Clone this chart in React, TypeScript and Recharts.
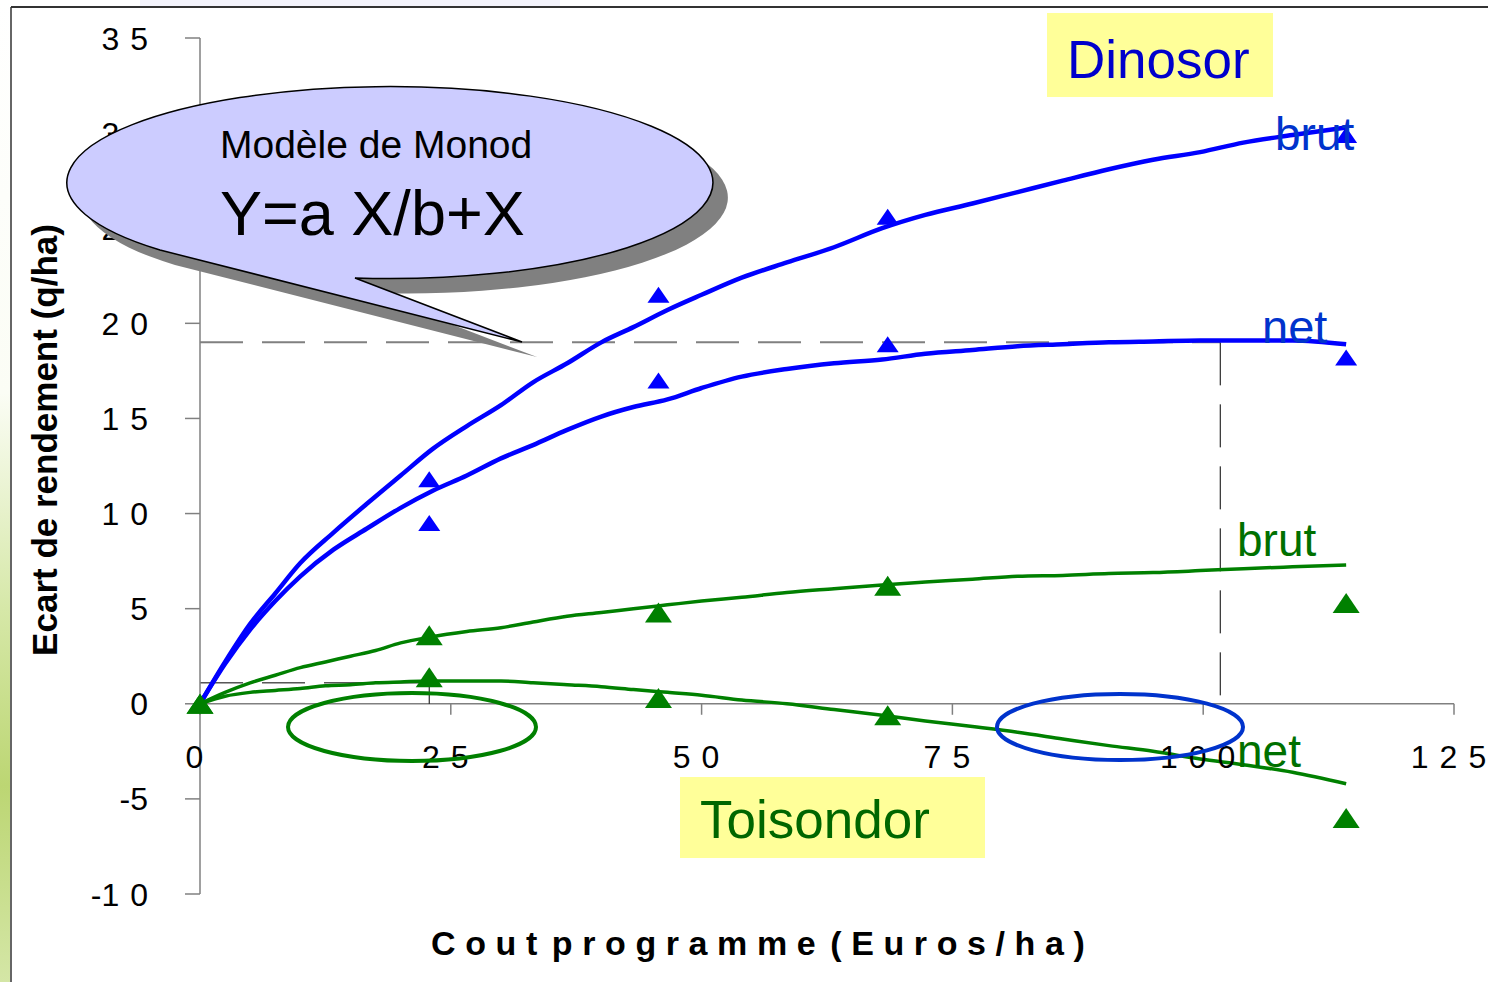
import React from 'react';
import { ComposedChart, Line, Scatter, XAxis, YAxis, ReferenceLine } from 'recharts';

// ---- Data ----
const doseX = [0, 22.85, 45.7, 68.55, 114.25];

const dinoBrutObs = [0, 11.8, 21.5, 25.6, 29.9];
const dinoNetObs = [0, 9.5, 17.0, 18.9, 18.2];
const toisBrutObs = [0, 3.6, 4.8, 6.2, 5.3];
const toisNetObs = [0, 1.4, 0.3, -0.6, -6.0];

const curveX1 = [0, 2.5, 5, 7.5, 10, 13.3, 16.6, 20, 23.2, 26.6, 30, 33.2, 36.6, 40, 43.2, 46.6, 50, 54, 58.5, 63.2, 68, 72.3, 77, 81.5, 86, 90.6, 95, 99.7, 104, 108.9, 114.25];
const dinoBrutCurve = [0, 2.2, 4.2, 5.8, 7.4, 9.0, 10.5, 12.0, 13.4, 14.6, 15.7, 16.9, 17.9, 19.0, 19.8, 20.7, 21.5, 22.4, 23.2, 24.0, 25.0, 25.7, 26.3, 26.9, 27.5, 28.1, 28.6, 29.0, 29.5, 29.9, 30.3];
const dinoNetCurve = [0, 2.1, 3.9, 5.4, 6.7, 8.1, 9.2, 10.3, 11.2, 12.0, 12.9, 13.6, 14.4, 15.1, 15.6, 16.0, 16.6, 17.2, 17.6, 17.9, 18.1, 18.4, 18.6, 18.8, 18.9, 19.0, 19.05, 19.1, 19.1, 19.1, 18.9];

const curveX2 = [0, 2.5, 5, 7.5, 10, 12.5, 15, 17.5, 20, 22.85, 26.6, 30, 33.2, 36.6, 40, 43.2, 46.6, 50, 54, 58.5, 63.2, 68, 72.3, 77, 81.5, 86, 90.6, 95, 99.7, 104, 108.9, 114.25];
const toisBrutCurve = [0, 0.6, 1.1, 1.5, 1.9, 2.2, 2.5, 2.8, 3.2, 3.5, 3.8, 4.0, 4.3, 4.6, 4.8, 5.0, 5.2, 5.4, 5.6, 5.85, 6.05, 6.25, 6.4, 6.55, 6.7, 6.75, 6.85, 6.9, 7.0, 7.1, 7.2, 7.3];
const toisNetCurve = [0, 0.4, 0.6, 0.7, 0.8, 0.95, 1.0, 1.1, 1.15, 1.2, 1.2, 1.2, 1.1, 1.0, 0.9, 0.75, 0.6, 0.45, 0.2, 0.0, -0.3, -0.6, -0.9, -1.2, -1.5, -1.85, -2.2, -2.5, -2.9, -3.2, -3.6, -4.2];

const xTickValues = [0, 25, 50, 75, 100, 125];
const yTickValues = [-10, -5, 0, 5, 10, 15, 20, 25, 30, 35];
const xTitleWords = ['Cout', 'programme', '(Euros/ha)'];

const optimumY = 19;
const optimumX = 101.7;
const toisMaxY = 1.1;
const toisMaxX = 22.85;

const zip = (xs: number[], ys: number[]) => xs.map((x, i) => ({ x, y: ys[i] }));

const dinoBrutLine = zip(curveX1, dinoBrutCurve);
const dinoNetLine = zip(curveX1, dinoNetCurve);
const toisBrutLine = zip(curveX2, toisBrutCurve);
const toisNetLine = zip(curveX2, toisNetCurve);
const dinoBrutPts = zip(doseX, dinoBrutObs);
const dinoNetPts = zip(doseX, dinoNetObs);
const toisBrutPts = zip(doseX, toisBrutObs);
const toisNetPts = zip(doseX, toisNetObs);
const xTickPts = xTickValues.map((x) => ({ x, y: 0 }));

const FONT = '"Liberation Sans", Arial, sans-serif';
const BLUE = '#0000ff';
const GREEN = '#008000';

const makeTriangle = (w: number, h: number, color: string) => (props: any) => {
  const { cx, cy } = props;
  if (cx == null || cy == null) return null;
  return (
    <polygon
      points={`${cx},${cy - h / 2} ${cx + w / 2},${cy + h / 2} ${cx - w / 2},${cy + h / 2}`}
      fill={color}
    />
  );
};

const BlueTri = makeTriangle(22, 16, BLUE);
const GreenTri = makeTriangle(27, 20, GREEN);

const tickLabel = (v: number) => {
  const neg = v < 0;
  const digits = String(Math.abs(v));
  return [
    neg ? <tspan key="m" letterSpacing={0}>-</tspan> : null,
    <tspan key="d" letterSpacing={11}>{digits}</tspan>,
  ];
};

const XTickShape = (props: any) => {
  const { cx, cy, payload } = props;
  return (
    <g>
      <line x1={cx} y1={cy} x2={cx} y2={cy + 11} stroke="#808080" strokeWidth={1.5} />
      <text x={cx} y={cy + 64} textAnchor="middle" fontSize={32} fontFamily={FONT} fill="#000">
        {tickLabel(payload.x)}
      </text>
    </g>
  );
};

const YTick = (props: any) => {
  const { x, y, payload } = props;
  return (
    <text x={x} y={y} dy="0.36em" textAnchor="end" fontSize={32} fontFamily={FONT} fill="#000">
      {tickLabel(payload.value)}
    </text>
  );
};

const calloutPath = 'M 355 278 L 522 342 L 160 250 A 323 96 0 1 1 355 278 Z';

export default function App() {
  return (
    <div style={{ position: 'absolute', left: 0, top: 0, width: 1488, height: 982, background: '#fff', fontFamily: FONT }}>
      <ComposedChart width={1488} height={982} margin={{ top: 38, right: 34, bottom: 88, left: 0 }}>
        <XAxis type="number" dataKey="x" domain={[0, 125]} hide />
        <YAxis
          type="number"
          dataKey="y"
          domain={[-10, 35]}
          ticks={yTickValues}
          interval={0}
          width={200}
          tickSize={15}
          tickMargin={26}
          axisLine={{ stroke: '#808080', strokeWidth: 1.5 }}
          tickLine={{ stroke: '#808080', strokeWidth: 1.5 }}
          tick={<YTick />}
        />
        <ReferenceLine y={0} stroke="#808080" strokeWidth={1.5} />
        <ReferenceLine
          segment={[{ x: 0, y: optimumY }, { x: optimumX, y: optimumY }]}
          stroke="#808080"
          strokeWidth={2}
          strokeDasharray="43 19"
        />
        <ReferenceLine
          segment={[{ x: optimumX, y: optimumY }, { x: optimumX, y: 0 }]}
          stroke="#000"
          strokeWidth={1}
          strokeDasharray="43 19"
        />
        <ReferenceLine
          segment={[{ x: 0, y: toisMaxY }, { x: toisMaxX, y: toisMaxY }]}
          stroke="#000"
          strokeWidth={1}
          strokeDasharray="43 19"
        />
        <ReferenceLine
          segment={[{ x: toisMaxX, y: toisMaxY }, { x: toisMaxX, y: 0 }]}
          stroke="#000"
          strokeWidth={1}
        />
        <Scatter data={xTickPts} dataKey="y" shape={<XTickShape />} isAnimationActive={false} />
        <Line data={dinoBrutLine} dataKey="y" type="monotone" stroke={BLUE} strokeWidth={4.5} dot={false} isAnimationActive={false} />
        <Line data={dinoNetLine} dataKey="y" type="monotone" stroke={BLUE} strokeWidth={4.5} dot={false} isAnimationActive={false} />
        <Line data={toisBrutLine} dataKey="y" type="monotone" stroke={GREEN} strokeWidth={3.5} dot={false} isAnimationActive={false} />
        <Line data={toisNetLine} dataKey="y" type="monotone" stroke={GREEN} strokeWidth={3.5} dot={false} isAnimationActive={false} />
        <Scatter data={dinoBrutPts} dataKey="y" shape={<BlueTri />} isAnimationActive={false} />
        <Scatter data={dinoNetPts} dataKey="y" shape={<BlueTri />} isAnimationActive={false} />
        <Scatter data={toisBrutPts} dataKey="y" shape={<GreenTri />} isAnimationActive={false} />
        <Scatter data={toisNetPts} dataKey="y" shape={<GreenTri />} isAnimationActive={false} />
      </ComposedChart>

      <svg width={1488} height={982} style={{ position: 'absolute', left: 0, top: 0, pointerEvents: 'none' }}>
        <defs>
          <linearGradient id="strip" x1="0" y1="0" x2="0" y2="1">
            <stop offset="0" stopColor="#ffffff" />
            <stop offset="0.4" stopColor="#fbfdf5" />
            <stop offset="0.62" stopColor="#d6e8a8" />
            <stop offset="0.8" stopColor="#bcd673" />
            <stop offset="1" stopColor="#d4e6a6" />
          </linearGradient>
        </defs>
        <rect x={140} y={0} width={420} height={6} fill="#f3f3fb" />
        <rect x={0} y={0} width={10} height={982} fill="url(#strip)" />
        <line x1={11} y1={7} x2={1488} y2={7} stroke="#333" strokeWidth={2} />
        <line x1={11} y1={7} x2={11} y2={982} stroke="#333" strokeWidth={1.5} />

        <text x={57} y={440} transform="rotate(-90 57 440)" textAnchor="middle" fontSize={35} fontWeight="bold" fontFamily={FONT} fill="#000">
          Ecart de rendement (q/ha)
        </text>
        <text x={431} y={955} fontSize={34} fontWeight="bold" letterSpacing={9.6} fontFamily={FONT} fill="#000">
          {xTitleWords.map((w, i) => (
            <tspan key={w} dx={i === 0 ? 0 : 5}>{w}</tspan>
          ))}
        </text>

        <path d={calloutPath} transform="translate(15 15)" fill="#808080" />
        <path d={calloutPath} fill="#ccccff" stroke="#000" strokeWidth={1.5} strokeLinejoin="miter" />
        <text x={220} y={158} fontSize={39} fontFamily={FONT} fill="#000">Modèle de Monod</text>
        <text x={220} y={235} fontSize={63} fontFamily={FONT} fill="#000">Y=a X/b+X</text>

        <rect x={1047} y={13} width={226} height={84} fill="#ffff99" />
        <text x={1067} y={78} fontSize={53} fontFamily={FONT} fill="#0000cc">Dinosor</text>
        <rect x={680} y={777} width={305} height={81} fill="#ffff99" />
        <text x={700} y={838} fontSize={53} fontFamily={FONT} fill="#006600">Toisondor</text>

        <text x={1275} y={150} fontSize={46} fontFamily={FONT} fill="#0033cc">brut</text>
        <text x={1262} y={343} fontSize={47} fontFamily={FONT} fill="#0033cc">net</text>
        <text x={1237} y={556} fontSize={46} fontFamily={FONT} fill="#007000">brut</text>
        <text x={1237} y={767} fontSize={46} fontFamily={FONT} fill="#007000">net</text>

        <ellipse cx={412} cy={727} rx={124} ry={34} fill="none" stroke={GREEN} strokeWidth={4} />
        <ellipse cx={1120} cy={727} rx={123} ry={33} fill="none" stroke="#0033cc" strokeWidth={4} />
      </svg>
    </div>
  );
}
